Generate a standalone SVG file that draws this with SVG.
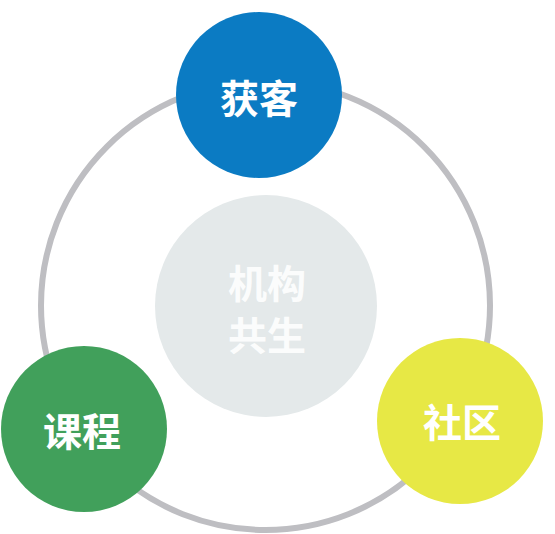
<svg xmlns="http://www.w3.org/2000/svg" width="555" height="534" viewBox="0 0 555 534">
<style>
.lbl{font-family:"Noto Sans CJK SC","Noto Sans",sans-serif;font-weight:bold;font-size:39px;fill:#ffffff;text-anchor:middle;dominant-baseline:central}
.ring{fill:none;stroke:#bebec2;stroke-width:6}
</style>
<rect width="555" height="534" fill="#ffffff"/>
<g id="connectors">
<circle class="ring" cx="265.5" cy="305.5" r="224.5"/>
</g>
<g id="center">
<circle cx="266" cy="306" r="111" fill="#e4e9ea"/>
<text class="lbl" x="267" y="281" fill-opacity="0.9">机构</text>
<text class="lbl" x="267" y="333" fill-opacity="0.9">共生</text>
</g>
<g id="node-huoke">
<circle cx="259" cy="95" r="83" fill="#0b7bc3"/>
<text class="lbl" x="259" y="96">获客</text>
</g>
<g id="node-kecheng">
<circle cx="84" cy="429" r="83" fill="#41a05b"/>
<text class="lbl" x="82" y="429">课程</text>
</g>
<g id="node-shequ">
<circle cx="460" cy="421" r="83" fill="#e7e845"/>
<text class="lbl" x="462" y="420">社区</text>
</g>
</svg>
